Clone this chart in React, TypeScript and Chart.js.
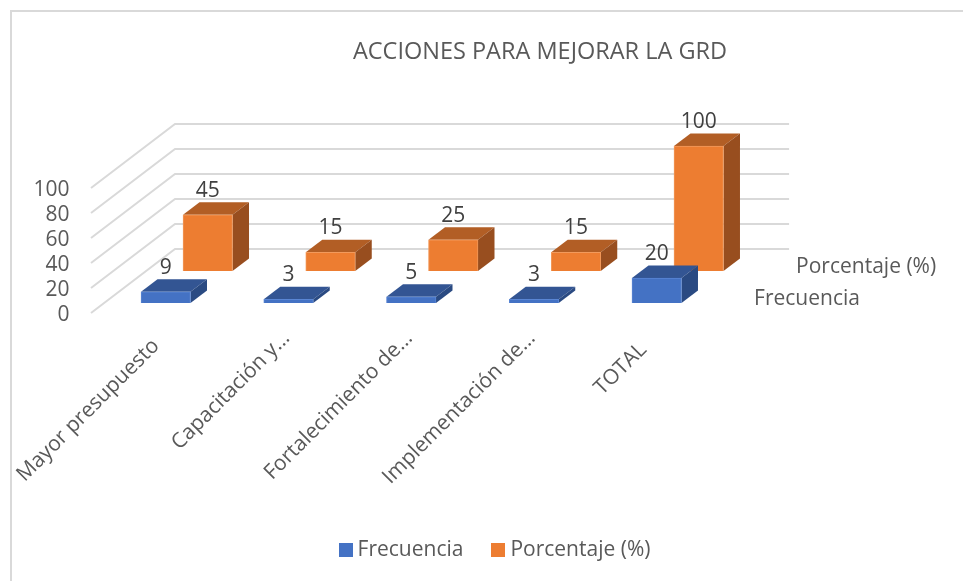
import React, { useEffect, useRef } from "react";
import { Chart, registerables } from "chart.js";

Chart.register(...registerables);

const chartTitle = "ACCIONES PARA MEJORAR LA GRD";
const categories = ["Mayor presupuesto", "Capacitación y...", "Fortalecimiento de...", "Implementación de...", "TOTAL"];
const frecuencia = [9, 3, 5, 3, 20];
const porcentaje = [45, 15, 25, 15, 100];
const yTicks = { min: 0, max: 100, stepSize: 20 };

const FONT = '"Open Sans", sans-serif';
const FONT_SIZE = 21;
const TITLE_SIZE = 23.5;
const GRAY = "#595959";
const DARK = "#404040";
const GRID = "#d9d9d9";

const WIDTH = 963;
const HEIGHT = 581;
const AREA = { left: 104.4, right: 718.1, top: 188, bottom: 313 };
const WALL = { dx: 84, dy: -64, leftInset: 13.4, rightOver: 71 };
const BAR_DEPTH = { dx: 16.5, dy: -12.5 };
const ROW = [
  { dx: 0, dy: -10, top: "#335593", side: "#2a4a82", labelX: 36, labelY: -4 },
  { dx: 42, dy: -42, top: "#b25e25", side: "#984e1f", labelX: 36, labelY: -4 },
];
// trailing spaces slide a rotated label down along its own diagonal
const LABEL_SLIDE = [2, 0, 0, 0, 3];

function swatch(color: string) {
  const c = document.createElement("canvas");
  c.width = 14;
  c.height = 14;
  const g = c.getContext("2d") as CanvasRenderingContext2D;
  g.fillStyle = color;
  g.fillRect(0, 0, 14, 14);
  return c;
}

const bar3d = {
  id: "bar3d",
  afterLayout(chart: any) {
    const t = chart.titleBlock;
    if (t) {
      t.left = 540 - WIDTH / 2;
      t.right = t.left + WIDTH;
    }
    const l = chart.legend;
    if (l) {
      const h = l.height;
      l.left = 15.75;
      l.right = WIDTH + 15.75;
      l.top = 538 - h / 2;
      l.bottom = l.top + h;
    }
  },
  beforeDatasetsDraw(chart: any) {
    const { ctx, chartArea, scales } = chart;
    ctx.save();
    ctx.strokeStyle = GRID;
    ctx.lineWidth = 2;
    ctx.beginPath();
    ctx.moveTo(11, HEIGHT);
    ctx.lineTo(11, 11);
    ctx.lineTo(WIDTH, 11);
    ctx.stroke();
    const x0 = chartArea.left - WALL.leftInset;
    const x2 = chartArea.right + WALL.rightOver;
    scales.y.ticks.forEach((tk: any) => {
      const p = scales.y.getPixelForValue(tk.value);
      ctx.beginPath();
      ctx.moveTo(x0, p);
      ctx.lineTo(x0 + WALL.dx, p + WALL.dy);
      ctx.lineTo(x2, p + WALL.dy);
      ctx.stroke();
    });
    ctx.fillStyle = GRAY;
    ctx.font = `${FONT_SIZE}px ${FONT}`;
    ctx.textAlign = "left";
    ctx.textBaseline = "middle";
    chart.data.datasets.forEach((ds: any, i: number) => {
      const r = ROW[i];
      ctx.fillText(ds.label, chartArea.right + r.labelX + r.dx, chartArea.bottom + r.dy + r.labelY);
    });
    ctx.restore();
  },
  beforeDatasetDraw(chart: any, args: any) {
    const { ctx } = chart;
    const r = ROW[args.index];
    ctx.save();
    ctx.translate(r.dx, r.dy);
    args.meta.data.forEach((el: any) => {
      const { x, y, base, width } = el.getProps(["x", "y", "base", "width"], true);
      const L = x - width / 2;
      const R = x + width / 2;
      const d = BAR_DEPTH;
      ctx.fillStyle = r.top;
      ctx.beginPath();
      ctx.moveTo(L, y);
      ctx.lineTo(L + d.dx, y + d.dy);
      ctx.lineTo(R + d.dx, y + d.dy);
      ctx.lineTo(R, y);
      ctx.closePath();
      ctx.fill();
      ctx.fillStyle = r.side;
      ctx.beginPath();
      ctx.moveTo(R, y);
      ctx.lineTo(R + d.dx, y + d.dy);
      ctx.lineTo(R + d.dx, base + d.dy);
      ctx.lineTo(R, base);
      ctx.closePath();
      ctx.fill();
    });
  },
  afterDatasetDraw(chart: any) {
    chart.ctx.restore();
  },
  afterDatasetsDraw(chart: any) {
    const { ctx } = chart;
    ctx.save();
    ctx.fillStyle = DARK;
    ctx.font = `${FONT_SIZE}px ${FONT}`;
    ctx.textAlign = "center";
    ctx.textBaseline = "middle";
    chart.data.datasets.forEach((ds: any, i: number) => {
      const r = ROW[i];
      chart.getDatasetMeta(i).data.forEach((el: any, j: number) => {
        const { x, y } = el.getProps(["x", "y"], true);
        ctx.fillText(String(ds.data[j]), x + r.dx, y + r.dy + BAR_DEPTH.dy - 11.5);
      });
    });
    ctx.restore();
  },
};

export default function App() {
  const ref = useRef<HTMLCanvasElement>(null);
  useEffect(() => {
    const chart = new Chart(ref.current as HTMLCanvasElement, {
      type: "bar",
      plugins: [bar3d],
      data: {
        labels: categories,
        datasets: [
          { label: "Frecuencia", data: frecuencia, backgroundColor: "#4472c4", borderColor: "#5a86d4", borderWidth: 1, clip: false },
          { label: "Porcentaje (%)", data: porcentaje, backgroundColor: "#ed7d31", borderColor: "#f29a5c", borderWidth: 1, clip: false },
        ],
      },
      options: {
        animation: false,
        responsive: false,
        layout: { padding: { right: WIDTH - AREA.right } },
        datasets: { bar: { grouped: false, barThickness: 49.5 } },
        plugins: {
          tooltip: { enabled: false },
          title: {
            display: true,
            text: chartTitle,
            color: GRAY,
            font: { family: FONT, size: TITLE_SIZE, weight: "normal", lineHeight: 1.2 },
            padding: { top: 38.5, bottom: AREA.top - 38.5 - TITLE_SIZE * 1.2 },
          },
          legend: {
            position: "bottom",
            labels: {
              color: GRAY,
              font: { family: FONT, size: FONT_SIZE },
              usePointStyle: true,
              pointStyleWidth: 3,
              boxHeight: 14,
              padding: 33.5,
              generateLabels(chart: any) {
                return Chart.defaults.plugins.legend.labels.generateLabels(chart).map((item: any, i: number) => ({
                  ...item,
                  pointStyle: swatch(chart.data.datasets[i].backgroundColor),
                }));
              },
            },
          },
        },
        scales: {
          x: {
            grid: { display: false, drawTicks: false },
            border: { display: false },
            ticks: {
              color: GRAY,
              font: { family: FONT, size: FONT_SIZE },
              minRotation: 45,
              maxRotation: 45,
              autoSkip: false,
              padding: 13,
              labelOffset: -2,
              callback(_v: any, i: number) {
                return categories[i] + " ".repeat(LABEL_SLIDE[i]);
              },
            },
            afterFit(s: any) {
              s.height = HEIGHT - AREA.bottom - (s.chart.legend?.height ?? 0);
              s.paddingLeft = 0;
              s.paddingRight = 0;
            },
          },
          y: {
            min: yTicks.min,
            max: yTicks.max,
            grid: { display: false, drawTicks: false },
            border: { display: false },
            ticks: {
              stepSize: yTicks.stepSize,
              autoSkip: false,
              color: GRAY,
              font: { family: FONT, size: FONT_SIZE },
              padding: 35,
              labelOffset: 2,
            },
            afterFit(s: any) {
              s.width = AREA.left;
            },
          },
        },
      },
    } as any);
    return () => chart.destroy();
  }, []);
  return (
    <div style={{ position: "absolute", left: 0, top: 0, width: WIDTH, height: HEIGHT, background: "#fff" }}>
      <canvas ref={ref} width={WIDTH} height={HEIGHT} style={{ display: "block" }} />
    </div>
  );
}
